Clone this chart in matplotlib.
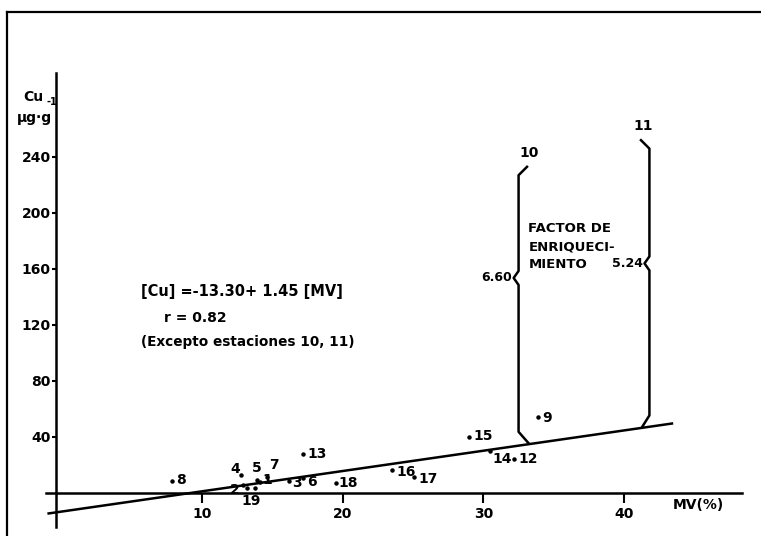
import matplotlib.pyplot as plt
from matplotlib.lines import Line2D

# station data, MV (%) and Cu (ug/g)
stations = ['8', '4', '2', '19', '19b', '5', '1', '7', '3', '13', '6', '18',
            '16', '17', '15', '14', '12', '9']
mv = [7.9, 12.8, 12.9, 13.2, 13.8, 13.9, 14.1, 14.6, 16.2, 17.2, 17.2, 19.5,
      23.5, 25.1, 29.0, 30.5, 32.2, 33.9]
cu = [8.6, 12.9, 5.7, 3.6, 3.6, 9.3, 7.6, 11.4, 8.6, 27.9, 10.7, 7.1,
      16.4, 11.4, 40.0, 30.0, 24.3, 54.3]
# label offsets in pixels (dx, dy, ha)
lab_off = {'8': (4, 1, 'left'), '4': (-1, 6, 'right'), '2': (-3, -5, 'right'),
           '19': (4, -13, 'center'), '19b': None, '5': (0, 12, 'center'),
           '1': (3, 2, 'left'), '7': (7, 12, 'center'), '3': (3, -2, 'left'),
           '13': (4, 0, 'left'), '6': (4, -4, 'left'), '18': (3, 0, 'left'),
           '16': (4, -2, 'left'), '17': (4, -2, 'left'), '15': (4, 1, 'left'),
           '14': (2, -8, 'left'), '12': (4, 0, 'left'), '9': (4, -1, 'left')}

# stations excluded from the regression
mv_out = [33.1, 41.2]
cu_out = [233, 252]
out_names = ['10', '11']
enrich = ['6.60', '5.24']
notch_cu = [153.6, 164]
side = [-1, 1]

a, b = -13.30, 1.45
xticks = [10, 20, 30, 40]
yticks = [40, 80, 120, 160, 200, 240]

FS = 10
fig = plt.figure(figsize=(7.61, 5.36), dpi=100)
ax = fig.add_axes([0, 0, 1, 1])
ax.set_xlim(-61.3 / 14.07, (761 - 61.3) / 14.07)
ax.set_ylim((493 - 536) / 1.4, 493 / 1.4)

for s in ['top', 'right']:
    ax.spines[s].set_visible(False)
ax.spines['left'].set_position(('data', -0.35))
ax.spines['left'].set_bounds(-24, 300)
ax.spines['bottom'].set_position(('data', 0))
ax.spines['bottom'].set_bounds(-1.1, 48.4)
for s in ['left', 'bottom']:
    ax.spines[s].set_linewidth(1.8)

ax.set_xticks(xticks)
ax.set_yticks(yticks)
ax.tick_params(axis='x', direction='out', length=7, width=1.5, pad=3, labelsize=FS)
ax.tick_params(axis='y', direction='out', length=3, width=1.5, pad=1, labelsize=FS)
for t in ax.get_xticklabels() + ax.get_yticklabels():
    t.set_fontweight('bold')

# regression line
rx = [-0.9, 43.4]
ax.plot(rx, [a + b * v for v in rx], color='black', lw=1.8)

# points and labels
ax.plot(mv, cu, 'o', color='black', ms=2.2)
for n, x, y in zip(stations, mv, cu):
    o = lab_off[n]
    if o is None:
        continue
    ax.annotate(n, (x, y), xytext=(o[0], o[1]), textcoords='offset pixels',
                ha=o[2], va='center', fontsize=FS, fontweight='bold')

# brackets for stations 10 and 11
for x, y, n, f, nc, sd in zip(mv_out, cu_out, out_names, enrich, notch_cu, side):
    r = a + b * x
    xv = x + sd * 0.6
    bx = [x, xv, xv, xv - 0.35, xv, xv, x + 0.1]
    by = [y, y - 6, nc + 5, nc, nc - 5, r + 9, r + 1]
    ax.plot(bx, by, color='black', lw=1.8)
    ax.annotate(n, (x, y), xytext=(2, 14), textcoords='offset pixels',
                ha='center', va='center', fontsize=FS, fontweight='bold')
    ax.annotate(f, (xv - 0.35, nc), xytext=(-2, 0), textcoords='offset pixels',
                ha='right', va='center', fontsize=9, fontweight='bold')

for txt, yy in zip(['FACTOR DE', 'ENRIQUECI-', 'MIENTO'], [189, 176, 163]):
    ax.text(33.2, yy, txt, ha='left', va='center', fontsize=9.5, fontweight='bold')

ax.text(5.7, 143.6, '[Cu] =-13.30+ 1.45 [MV]', ha='left', va='center',
        fontsize=10.5, fontweight='bold')
ax.text(7.3, 125, 'r = 0.82', ha='left', va='center', fontsize=FS, fontweight='bold')
ax.text(5.7, 108, '(Excepto estaciones 10, 11)', ha='left', va='center',
        fontsize=9.8, fontweight='bold')

# axis titles
ax.text(-2.0, 283, 'Cu', ha='center', va='center', fontsize=FS, fontweight='bold')
ax.text(-1.9, 268, 'µg·g', ha='center', va='center', fontsize=FS, fontweight='bold')
ax.text(-0.65, 279, '-1', ha='center', va='center', fontsize=7, fontweight='bold')
ax.text(45.3, -8.6, 'MV(%)', ha='center', va='center', fontsize=10, fontweight='bold')

# page frame
fig.add_artist(Line2D([0.0092, 1.0], [0.9776, 0.9776], color='black', lw=1.6))
fig.add_artist(Line2D([0.0092, 0.0092], [0.0, 0.9776], color='black', lw=1.6))

fig.savefig('out.png', dpi=100)
